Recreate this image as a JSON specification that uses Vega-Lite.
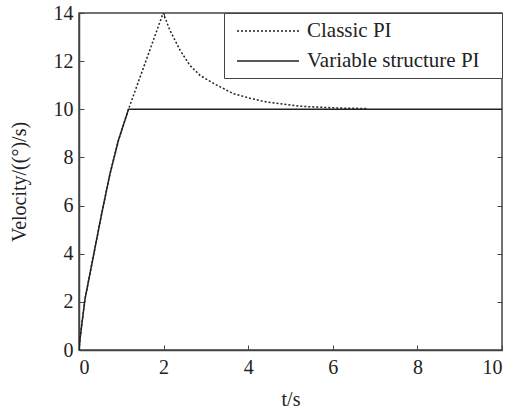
{
  "$schema": "https://vega.github.io/schema/vega-lite/v6.json",
  "width": 423,
  "height": 337,
  "autosize": "none",
  "padding": {"left": 79, "top": 13, "right": 9, "bottom": 61},
  "background": "white",
  "config": {
    "font": "Liberation Serif",
    "view": {"stroke": "#444", "strokeWidth": 1.5},
    "axis": {
      "grid": false,
      "domainColor": "#444",
      "domainWidth": 1.5,
      "tickColor": "#444",
      "tickWidth": 1,
      "labelFont": "Liberation Serif",
      "labelFontSize": 20,
      "labelColor": "#222",
      "titleFont": "Liberation Serif",
      "titleFontSize": 20,
      "titleFontWeight": "normal",
      "titleColor": "#222"
    }
  },
  "data": {
    "values": [
      {"series": "Classic PI", "t": 0, "v": 0},
      {"series": "Classic PI", "t": 0.02, "v": 0.4},
      {"series": "Classic PI", "t": 0.14, "v": 2.1},
      {"series": "Classic PI", "t": 0.34, "v": 3.9},
      {"series": "Classic PI", "t": 0.54, "v": 5.7},
      {"series": "Classic PI", "t": 0.73, "v": 7.3},
      {"series": "Classic PI", "t": 0.93, "v": 8.7},
      {"series": "Classic PI", "t": 1.17, "v": 10.0},
      {"series": "Classic PI", "t": 1.6, "v": 12.1},
      {"series": "Classic PI", "t": 1.99, "v": 14.0},
      {"series": "Classic PI", "t": 2.15, "v": 13.28},
      {"series": "Classic PI", "t": 2.39, "v": 12.45},
      {"series": "Classic PI", "t": 2.62, "v": 11.83},
      {"series": "Classic PI", "t": 2.86, "v": 11.41},
      {"series": "Classic PI", "t": 3.26, "v": 11.0},
      {"series": "Classic PI", "t": 3.65, "v": 10.65},
      {"series": "Classic PI", "t": 4.04, "v": 10.46},
      {"series": "Classic PI", "t": 4.44, "v": 10.3},
      {"series": "Classic PI", "t": 4.83, "v": 10.22},
      {"series": "Classic PI", "t": 5.22, "v": 10.13},
      {"series": "Classic PI", "t": 5.62, "v": 10.09},
      {"series": "Classic PI", "t": 6.2, "v": 10.05},
      {"series": "Classic PI", "t": 6.83, "v": 10.03},
      {"series": "Variable structure PI", "t": 0, "v": 0},
      {"series": "Variable structure PI", "t": 0.02, "v": 0.4},
      {"series": "Variable structure PI", "t": 0.14, "v": 2.1},
      {"series": "Variable structure PI", "t": 0.34, "v": 3.9},
      {"series": "Variable structure PI", "t": 0.54, "v": 5.7},
      {"series": "Variable structure PI", "t": 0.73, "v": 7.3},
      {"series": "Variable structure PI", "t": 0.93, "v": 8.7},
      {"series": "Variable structure PI", "t": 1.17, "v": 10.0},
      {"series": "Variable structure PI", "t": 10, "v": 10.0}
    ]
  },
  "layer": [
    {
      "mark": {"type": "line", "color": "#222", "strokeWidth": 1.5, "clip": true},
      "encoding": {
        "x": {
          "field": "t", "type": "quantitative",
          "scale": {"domain": [0, 10], "nice": false, "zero": false},
          "axis": {"title": "t/s", "values": [0, 2, 4, 6, 8, 10], "tickSize": -5, "labelPadding": 12, "titlePadding": 12}
        },
        "y": {
          "field": "v", "type": "quantitative",
          "scale": {"domain": [0, 14], "nice": false},
          "axis": {"title": "Velocity/((°)/s)", "values": [0, 2, 4, 6, 8, 10, 12, 14], "tickSize": -5, "labelPadding": 11, "titlePadding": 24}
        },
        "strokeDash": {
          "field": "series", "type": "nominal",
          "scale": {"domain": ["Classic PI", "Variable structure PI"], "range": [[2, 2], [1, 0]]},
          "legend": {
            "title": null,
            "orient": "top-right",
            "offset": 0,
            "padding": 7,
            "strokeColor": "#444",
            "fillColor": "white",
            "symbolType": "M-0.5,0H5.7",
            "symbolSize": 400,
            "symbolStrokeColor": "#222",
            "symbolStrokeWidth": 1.5,
            "labelFont": "Liberation Serif",
            "labelFontSize": 21,
            "labelColor": "#222",
            "labelOffset": 54,
            "rowPadding": 9,
            "labelLimit": 400,
            "labelExpr": "datum.label == 'Variable structure PI' ? datum.label + '\u2800' : datum.label"
          }
        },
        "order": {"field": "series", "sort": "ascending"}
      }
    },
    {
      "mark": {"type": "rule", "opacity": 0},
      "encoding": {
        "x": {"datum": 0, "type": "quantitative", "axis": {"orient": "top", "title": null, "labels": false, "values": [0, 2, 4, 6, 8, 10], "tickSize": -5, "domain": false}}
      }
    },
    {
      "mark": {"type": "rule", "opacity": 0},
      "encoding": {
        "y": {"datum": 0, "type": "quantitative", "axis": {"orient": "right", "title": null, "labels": false, "values": [0, 2, 4, 6, 8, 10, 12, 14], "tickSize": -5, "domain": false}}
      }
    }
  ],
  "resolve": {"axis": {"x": "independent", "y": "independent"}}
}
